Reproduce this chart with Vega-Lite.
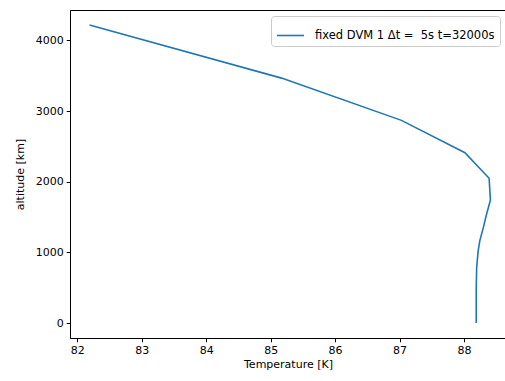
{
  "$schema": "https://vega.github.io/schema/vega-lite/v6.json",
  "autosize": {"type": "none"},
  "padding": {"left": 70, "top": 10, "right": 0, "bottom": 43},
  "width": 436,
  "height": 328,
  "background": "white",
  "data": {
    "values": [
      {"alt": 4220, "T": 82.19, "series": "fixed DVM 1 Δt =\u00a0 5s t=32000s"},
      {"alt": 3467, "T": 85.17, "series": "fixed DVM 1 Δt =\u00a0 5s t=32000s"},
      {"alt": 2869, "T": 87.03, "series": "fixed DVM 1 Δt =\u00a0 5s t=32000s"},
      {"alt": 2411, "T": 88.015, "series": "fixed DVM 1 Δt =\u00a0 5s t=32000s"},
      {"alt": 2049, "T": 88.39, "series": "fixed DVM 1 Δt =\u00a0 5s t=32000s"},
      {"alt": 1738, "T": 88.41, "series": "fixed DVM 1 Δt =\u00a0 5s t=32000s"},
      {"alt": 1541, "T": 88.35, "series": "fixed DVM 1 Δt =\u00a0 5s t=32000s"},
      {"alt": 1351, "T": 88.3, "series": "fixed DVM 1 Δt =\u00a0 5s t=32000s"},
      {"alt": 1163, "T": 88.245, "series": "fixed DVM 1 Δt =\u00a0 5s t=32000s"},
      {"alt": 1022, "T": 88.22, "series": "fixed DVM 1 Δt =\u00a0 5s t=32000s"},
      {"alt": 786, "T": 88.197, "series": "fixed DVM 1 Δt =\u00a0 5s t=32000s"},
      {"alt": 503, "T": 88.19, "series": "fixed DVM 1 Δt =\u00a0 5s t=32000s"},
      {"alt": 0, "T": 88.19, "series": "fixed DVM 1 Δt =\u00a0 5s t=32000s"}
    ]
  },
  "mark": {"type": "line", "strokeWidth": 1.6, "clip": true},
  "encoding": {
    "x": {
      "field": "T", "type": "quantitative",
      "scale": {"domain": [81.887, 88.652], "zero": false, "nice": false},
      "axis": {"values": [82, 83, 84, 85, 86, 87, 88], "title": "Temperature [K]", "format": "d"}
    },
    "y": {
      "field": "alt", "type": "quantitative",
      "scale": {"domain": [-211, 4431], "zero": false, "nice": false},
      "axis": {"values": [0, 1000, 2000, 3000, 4000], "title": "altitude [km]", "format": "d"}
    },
    "order": {"field": "alt", "type": "quantitative"},
    "color": {
      "field": "series", "type": "nominal",
      "scale": {"range": ["#1f77b4"]},
      "legend": {
        "title": null,
        "orient": "top-right",
        "offset": 6,
        "padding": 5,
        "fillColor": "white",
        "strokeColor": "#cccccc",
        "cornerRadius": 3,
        "symbolType": "stroke",
        "symbolSize": 729,
        "symbolStrokeWidth": 1.6,
        "labelFont": "DejaVu Sans",
        "labelFontSize": 11.5,
        "labelColor": "black",
        "labelOffset": 10,
        "labelLimit": 400
      }
    }
  },
  "config": {
    "view": {"stroke": "black", "strokeWidth": 1},
    "font": "DejaVu Sans",
    "axis": {
      "grid": false,
      "domainColor": "black",
      "tickColor": "black",
      "tickSize": 3.8,
      "labelColor": "black",
      "labelFont": "DejaVu Sans",
      "labelFontSize": 11,
      "labelPadding": 3,
      "titleFont": "DejaVu Sans",
      "titleFontSize": 11,
      "titleFontWeight": "normal",
      "titleColor": "black"
    },
    "axisX": {"titlePadding": 3},
    "axisY": {"titlePadding": 10}
  }
}
